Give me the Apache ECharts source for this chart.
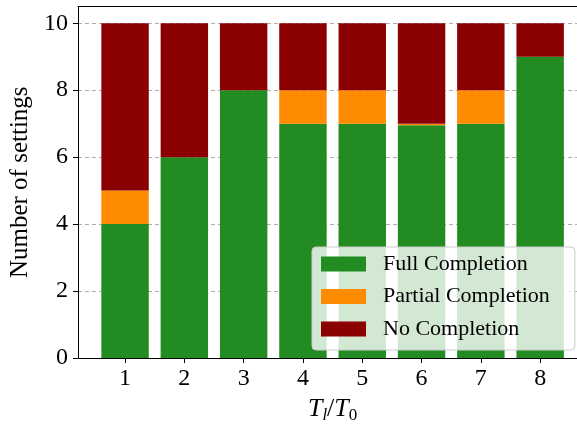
<!DOCTYPE html>
<html>
<head>
<meta charset="utf-8">
<script src="https://cdn.jsdelivr.net/npm/echarts@6/dist/echarts.min.js"></script>
<style>
  html, body { margin: 0; padding: 0; background: #fff; }
  #chart { width: 577px; height: 425px; }
</style>
</head>
<body>
<div id="chart"></div>
<script>
// Ratio T_l / T_0 on the horizontal axis
const ratios = ['1', '2', '3', '4', '5', '6', '7', '8'];
// Number of settings per outcome (stacked to 10)
const fullCompletion    = [4, 6, 8, 7, 7, 6.95, 7, 9];
const partialCompletion = [1, 0, 0, 1, 1, 0.05, 1, 0];
const noCompletion      = [5, 4, 2, 2, 2, 3, 2, 1];
const yTicks = [0, 2, 4, 6, 8, 10];

const FONT = '"Liberation Serif", "DejaVu Serif", serif';
const Y_MAX = 10.5;
const TOP = 6.5, HEIGHT = 351.5;

const chart = echarts.init(document.getElementById('chart'), null, { renderer: 'canvas' });

chart.setOption({
  animation: false,
  backgroundColor: '#fff',
  grid: [
    // frame: spines, y ticks, gridlines
    { left: 78, top: TOP, width: 509, height: HEIGHT, containLabel: false, outerBoundsMode: 'none' },
    // bars: eight category bands
    { left: 95.4, top: TOP, width: 474.4, height: HEIGHT, containLabel: false, outerBoundsMode: 'none' }
  ],
  xAxis: [{
    gridIndex: 0,
    type: 'value', min: 0, max: 1,
    axisLine: { show: true, onZero: false, lineStyle: { color: '#000', width: 1 } },
    axisTick: { show: false }, axisLabel: { show: false }, splitLine: { show: false },
    z: 10
  }, {
    gridIndex: 0,
    type: 'value', min: 0, max: 1, position: 'top',
    axisLine: { show: true, onZero: false, lineStyle: { color: '#000', width: 1 } },
    axisTick: { show: false }, axisLabel: { show: false }, splitLine: { show: false },
    z: 10
  }, {
    gridIndex: 1,
    type: 'category',
    data: ratios,
    boundaryGap: true,
    axisLine: { show: false },
    axisTick: { show: true, alignWithLabel: true, length: 5, lineStyle: { color: '#000' } },
    axisLabel: { fontFamily: FONT, fontSize: 24, color: '#000', margin: 9 },
    splitLine: { show: false },
    name: '{i|T}{s|l}{n|/}{i|T}{u|0}',
    nameLocation: 'middle',
    nameGap: 35,
    nameTextStyle: {
      rich: {
        i: { fontFamily: FONT, fontStyle: 'italic', fontSize: 26, color: '#000', lineHeight: 30, verticalAlign: 'middle' },
        n: { fontFamily: FONT, fontSize: 26, color: '#000', lineHeight: 30, verticalAlign: 'middle' },
        s: { fontFamily: FONT, fontStyle: 'italic', fontSize: 17, color: '#000', lineHeight: 14, verticalAlign: 'bottom' },
        u: { fontFamily: FONT, fontSize: 17, color: '#000', lineHeight: 14, verticalAlign: 'bottom' }
      }
    }
  }],
  yAxis: [{
    gridIndex: 0,
    type: 'value',
    min: 0, max: Y_MAX, interval: 2,
    axisLine: { show: true, lineStyle: { color: '#000', width: 1 } },
    axisTick: { show: true, length: 5, customValues: yTicks, lineStyle: { color: '#000' } },
    axisLabel: { customValues: yTicks, fontFamily: FONT, fontSize: 24, color: '#000', margin: 10 },
    splitLine: { show: true, lineStyle: { color: '#b0b0b0', type: [4, 3], width: 1 } },
    name: 'Number of settings',
    nameLocation: 'middle',
    nameGap: 36,
    nameTextStyle: { fontFamily: FONT, fontSize: 25, color: '#000' }
  }, {
    gridIndex: 1,
    type: 'value',
    min: 0, max: Y_MAX,
    show: false,
    splitLine: { show: false }
  }],
  legend: {
    orient: 'vertical',
    left: 312,
    top: 247,
    padding: [6, 25, 10, 9],
    itemWidth: 45,
    itemHeight: 15,
    itemGap: 10.5,
    backgroundColor: 'rgba(255,255,255,0.8)',
    borderColor: '#cccccc',
    borderWidth: 1,
    borderRadius: 4,
    icon: 'rect',
    textStyle: { fontFamily: FONT, fontSize: 22, color: '#000', padding: [0, 0, 0, 12] },
    data: ['Full Completion', 'Partial Completion', 'No Completion']
  },
  series: [
    { type: 'bar', name: 'Full Completion', xAxisIndex: 2, yAxisIndex: 1, stack: 'total', barWidth: '80%', data: fullCompletion, itemStyle: { color: '#228B22' } },
    { type: 'bar', name: 'Partial Completion', xAxisIndex: 2, yAxisIndex: 1, stack: 'total', barWidth: '80%', data: partialCompletion, itemStyle: { color: '#FF8C00' } },
    { type: 'bar', name: 'No Completion', xAxisIndex: 2, yAxisIndex: 1, stack: 'total', barWidth: '80%', data: noCompletion, itemStyle: { color: '#8B0000' } }
  ]
});
</script>
</body>
</html>
